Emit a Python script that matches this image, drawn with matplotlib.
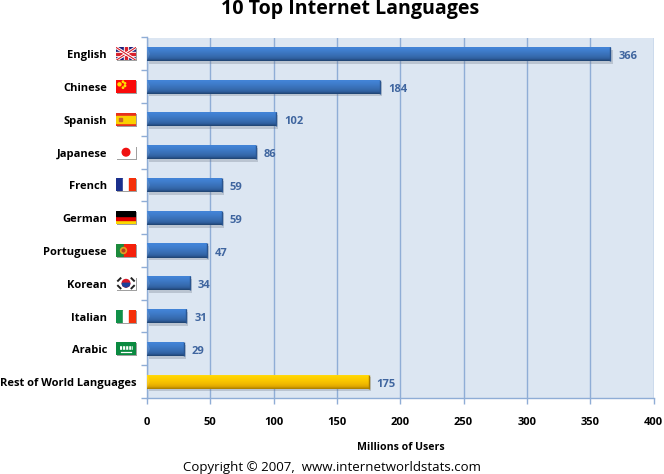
import numpy as np
import matplotlib
matplotlib.use('Agg')
import matplotlib.pyplot as plt
from matplotlib.colors import LinearSegmentedColormap
from matplotlib.patches import Rectangle, Circle, Polygon
from matplotlib.patheffects import SimplePatchShadow, Normal

plt.rcParams['font.family'] = ['Open Sans', 'DejaVu Sans']

languages = ['English', 'Chinese', 'Spanish', 'Japanese', 'French', 'German',
             'Portuguese', 'Korean', 'Italian', 'Arabic', 'Rest of World Languages']
users = [366, 184, 102, 86, 59, 59, 47, 34, 31, 29, 175]
x_ticks = [0, 50, 100, 150, 200, 250, 300, 350, 400]

W, H = 664, 474
LINE = '#8fadd6'
blue = LinearSegmentedColormap.from_list('b', ['#4486da', '#4282d4', '#3f7cca', '#3b74be', '#376cb0', '#3060a0', '#1f426f'])
gold = LinearSegmentedColormap.from_list('g', ['#ffdc1e', '#ffd400', '#fdcc00', '#f8c400', '#f0b800', '#e0a800', '#a87c00'])


def flag_uk(a):
    a.add_patch(Rectangle((0, 0), 20, 13, color='#1b1f7a'))
    for d in (1, -1):
        a.plot([10 - 10 * d, 10 + 10 * d], [0, 13], color='white', lw=2.2)
        a.plot([10 - 10 * d, 10 + 10 * d], [0, 13], color='#d8202c', lw=0.8)
    a.add_patch(Rectangle((8, 0), 4, 13, color='white'))
    a.add_patch(Rectangle((0, 4.5), 20, 4, color='white'))
    a.add_patch(Rectangle((9, 0), 2, 13, color='#d8202c'))
    a.add_patch(Rectangle((0, 5.5), 20, 2, color='#d8202c'))


def flag_cn(a):
    a.add_patch(Rectangle((0, 0), 20, 13, color='#fa0a0a'))
    a.add_patch(Circle((3.5, 8.8), 1.5, color='#ffe000'))
    for p in [(7, 11.5), (9, 9.8), (9, 7.3), (7, 5.5)]:
        a.add_patch(Circle(p, 0.7, color='#ffe000'))


def flag_es(a):
    a.add_patch(Rectangle((0, 0), 20, 13, color='#e8301c'))
    a.add_patch(Rectangle((0, 3.4), 20, 6.2, color='#fad000'))
    a.add_patch(Rectangle((2.5, 5), 3, 3, color='#c8602a'))


def flag_jp(a):
    a.add_patch(Rectangle((0, 0), 20, 13, color='white'))
    a.add_patch(Circle((10, 6.5), 3.8, color='#f01010'))


def stripes_v(a, cols):
    for i, c in enumerate(cols):
        a.add_patch(Rectangle((i * 20 / 3, 0), 20 / 3, 13, color=c))


def flag_fr(a):
    stripes_v(a, ['#1a2f8c', 'white', '#f5300a'])


def flag_de(a):
    for i, c in enumerate(['#fbd800', '#e00000', '#000000']):
        a.add_patch(Rectangle((0, i * 13 / 3), 20, 13 / 3, color=c))


def flag_pt(a):
    a.add_patch(Rectangle((0, 0), 8, 13, color='#1c8a3c'))
    a.add_patch(Rectangle((8, 0), 12, 13, color='#f5200a'))
    a.add_patch(Circle((7.5, 6.5), 3, color='#e0a020'))
    a.add_patch(Circle((7.5, 6.5), 1.3, color='#b84020'))


def flag_kr(a):
    a.add_patch(Rectangle((0, 0), 20, 13, color='white'))
    a.add_patch(Circle((10, 6.5), 3.8, color='#d81828'))
    a.add_patch(Polygon([(6.2, 6.5), (13.8, 6.5), (13, 4), (10, 2.7), (7, 4)], color='#1a3f9a'))
    for x0, y0, x1, y1 in [(2, 9, 4.5, 11.5), (15.5, 11.5, 18, 9), (2, 4, 4.5, 1.5), (15.5, 1.5, 18, 4)]:
        a.plot([x0, x1], [y0, y1], color='#222222', lw=1.4)


def flag_it(a):
    stripes_v(a, ['#109048', 'white', '#f5300a'])


def flag_sa(a):
    a.add_patch(Rectangle((0, 0), 20, 13, color='#0a8a40'))
    a.plot([3.5, 16.5], [7.5, 7.5], color='white', lw=2.6, ls=(0, (0.6, 0.25)))
    a.plot([5, 15], [3.6, 3.6], color='white', lw=0.9)


flags = [flag_uk, flag_cn, flag_es, flag_jp, flag_fr, flag_de, flag_pt, flag_kr, flag_it, flag_sa]

fig = plt.figure(figsize=(W / 100, H / 100), dpi=100, facecolor='white')
ax = fig.add_axes([147 / W, 1 - 398 / H, 506.5 / W, 360.5 / H])
ax.set_facecolor('#dce6f2')
ax.set_xlim(0, 400)
ax.set_ylim(10.5, -0.5)

half = 0.215
px = 400 / 506.5  # one pixel in x units
pos = np.arange(len(languages))
bars = ax.barh(pos, users, height=2 * half, color='#3567a8', zorder=3)
ramp = np.linspace(0, 1, 64).reshape(-1, 1)
for i, (b, v) in enumerate(zip(bars, users)):
    b.set_path_effects([SimplePatchShadow(offset=(1.5, -2), shadow_rgbFace='#6d7686', alpha=0.3), Normal()])
    last = i == len(users) - 1
    im = ax.imshow(ramp, cmap=gold if last else blue, aspect='auto', zorder=4,
                   interpolation='bilinear', extent=(0, v, i + half, i - half))
    im.set_clip_path(b)
    # bevelled ends of the bar
    ax.add_patch(Polygon([(0, i - half), (3 * px, i), (0, i + half)], color='white', alpha=0.12, lw=0, zorder=5))
    ax.plot([v, v], [i - half, i + half], color='#a87c00' if last else '#2a5590', lw=1, zorder=5,
            solid_capstyle='butt')
    ax.annotate(str(v), (v, i), xytext=(8, -2.5), textcoords='offset pixels', va='center', ha='left',
                fontsize=8, fontweight='bold', color='#3f659f', zorder=6)
ax.set_xlim(0, 400)
ax.set_ylim(10.5, -0.5)

ax.set_xticks(x_ticks)
ax.set_xticklabels([str(t) for t in x_ticks], fontsize=8, fontweight='bold', color='black')
ax.set_yticks(np.arange(-0.5, 11, 1))
ax.set_yticklabels([])
ax.tick_params(axis='both', length=4, width=1, color=LINE)
ax.tick_params(axis='x', pad=10)
ax.grid(axis='x', color=LINE, lw=1, zorder=1)
ax.set_axisbelow(True)
for s in ['top', 'right']:
    ax.spines[s].set_visible(False)
for s in ['left', 'bottom']:
    ax.spines[s].set_color(LINE)
    ax.spines[s].set_linewidth(1)

# category names sit left of the flags, the last one has no flag
for i, name in enumerate(languages):
    xpx = 136.5 if i == len(languages) - 1 else 107
    ax.annotate(name, (0, i), xytext=(xpx - 147, -2), textcoords='offset pixels', ha='right', va='center',
                fontsize=8, fontweight='bold', color='black', annotation_clip=False)

# small flags, one axes per row
for i, draw in enumerate(flags):
    yc = ax.transData.transform((0, i))[1]
    shadow = fig.add_axes([117 / W, (yc - 7.5) / H, 20 / W, 13 / H])
    shadow.set_facecolor('#a0a0a0')
    shadow.set_xticks([])
    shadow.set_yticks([])
    for sp in shadow.spines.values():
        sp.set_visible(False)
    fa = fig.add_axes([116 / W, (yc - 6.5) / H, 20 / W, 13 / H])
    fa.set_xlim(0, 20)
    fa.set_ylim(0, 13)
    fa.patch.set_alpha(0)
    fa.set_xticks([])
    fa.set_yticks([])
    for sp in fa.spines.values():
        sp.set_visible(False)
    draw(fa)

fig.text(350.5 / W, 1 - 9 / H, '10 Top Internet Languages', ha='center', va='center',
         fontsize=14.1, fontweight='bold', color='black')
fig.text(401 / W, 1 - 447.5 / H, 'Millions of Users', ha='center', va='center',
         fontsize=7.6, fontweight='bold', color='black')
fig.text(332 / W, 1 - 467.5 / H, 'Copyright \u00a9 2007,  www.internetworldstats.com', ha='center',
         va='center', fontsize=9.5, color='black')

fig.savefig('out.png', dpi=100)
